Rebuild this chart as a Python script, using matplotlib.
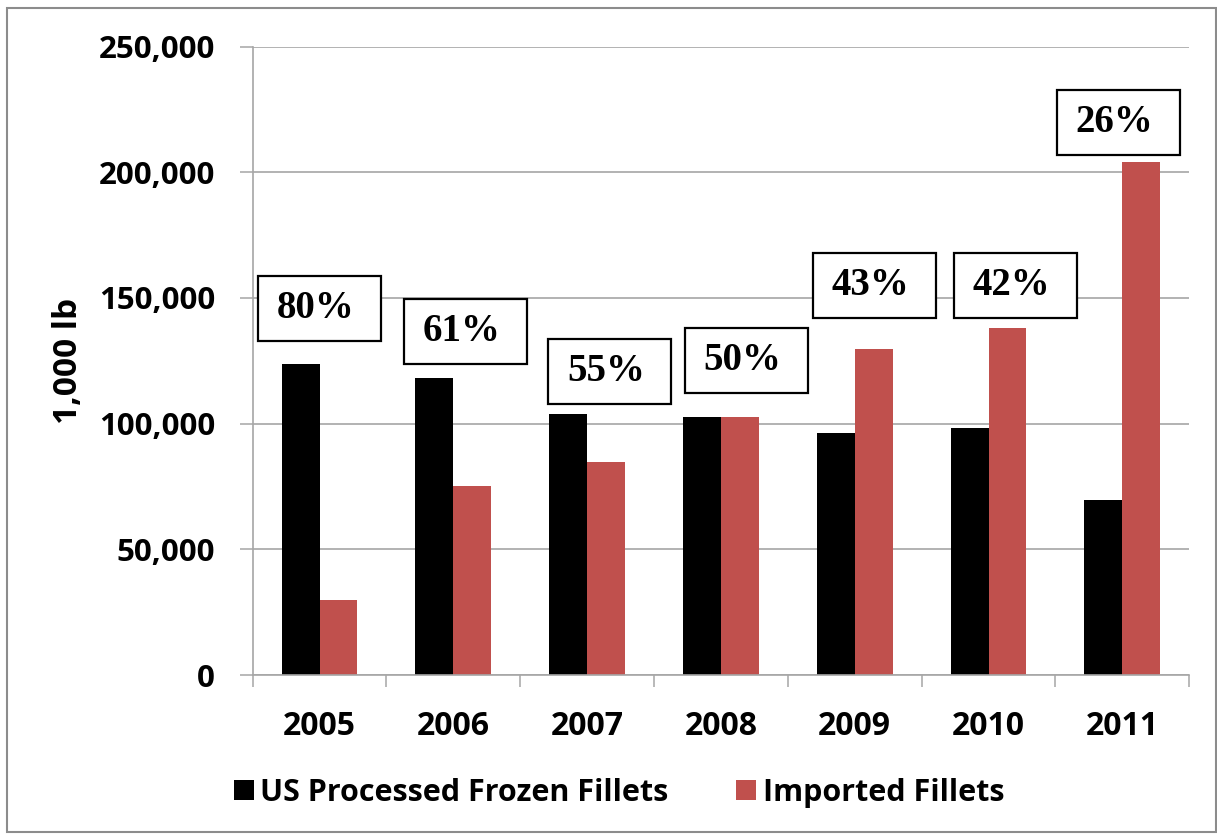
import matplotlib
matplotlib.use("Agg")
import matplotlib.pyplot as plt
from matplotlib.patches import Rectangle, Patch
import numpy as np

# ---- data ----
years = ["2005", "2006", "2007", "2008", "2009", "2010", "2011"]
us_processed = [123600, 118000, 103700, 102800, 96200, 98100, 69700]
imported = [29900, 75200, 84700, 102800, 129800, 137900, 204200]
share_labels = ["80%", "61%", "55%", "50%", "43%", "42%", "26%"]
# annotation box placement (category offset, value level)
label_dx = [0.0, 0.09, 0.17, 0.19, 0.15, 0.20, -0.03]
label_y = [145800, 136700, 120900, 125100, 155100, 155100, 219600]
yticks = [0, 50000, 100000, 150000, 200000, 250000]
series_names = ["US Processed Frozen Fillets", "Imported Fillets"]

BLACK = "#000000"
RED = "#C0504D"
GRID = "#A6A6A6"

plt.rcParams['font.family'] = ['Open Sans', 'DejaVu Sans']

fig = plt.figure(figsize=(12.17, 8.35), dpi=100)
ax = fig.add_axes([0.2076, 0.1916, 0.7696, 0.7527])

x = np.arange(len(years))
w = 0.283
ax.bar(x - w / 2, us_processed, w, color=BLACK, zorder=2)
ax.bar(x + w / 2, imported, w, color=RED, zorder=2)

ax.set_xlim(-0.5, len(years) - 0.5)
ax.set_ylim(0, 250000)
ax.set_axisbelow(True)

# y axis
ax.set_yticks(yticks)
ax.set_yticklabels([f"{v:,}" for v in yticks], fontsize=22.5, fontweight='bold')
ax.tick_params(axis='y', length=9.6, width=1.1, color=GRID, pad=17.5)
ax.yaxis.grid(True, color=GRID, linewidth=1.2)

# x axis: ticks at category boundaries, labels at centers
ax.set_xticks(np.arange(-0.5, len(years), 1.0))
ax.set_xticklabels([])
ax.tick_params(axis='x', which='major', length=8.6, width=1.1, color=GRID)
ax.set_xticks(x, minor=True)
ax.set_xticklabels(years, minor=True, fontsize=23, fontweight='bold')
ax.tick_params(axis='x', which='minor', length=0, pad=25)

for s in ['top', 'right']:
    ax.spines[s].set_visible(False)
for s in ['left', 'bottom']:
    ax.spines[s].set_color(GRID)
    ax.spines[s].set_linewidth(1.2)

# y label
fig.text(0.056, 0.568, "1,000 lb", rotation=90, ha='center', va='center',
         fontsize=24, fontweight='bold')

# share boxes
bw = 0.92
bh = 25860
for i, (lab, dx, ly) in enumerate(zip(share_labels, label_dx, label_y)):
    cx = x[i] + dx
    ax.add_patch(Rectangle((cx - bw / 2, ly - bh / 2), bw, bh, facecolor='white',
                           edgecolor='black', linewidth=1.6, zorder=5, clip_on=False))
    ax.text(cx - 0.03, ly, lab, ha='center', va='center', fontsize=28, fontweight='bold',
            family=['Liberation Serif', 'DejaVu Serif'], zorder=6)

# legend
handles = [Patch(facecolor=BLACK), Patch(facecolor=RED)]
fig.legend(handles, series_names, loc='center', bbox_to_anchor=(0.5086, 0.0503), ncol=2,
           frameon=False, prop={'size': 22, 'weight': 'bold'}, handlelength=0.65,
           handleheight=0.65, handletextpad=0.22, columnspacing=2.2)

# outer border
fig.patches.append(Rectangle((7 / 1217, 3 / 835), (1215.5 - 7) / 1217, (832 - 8) / 835,
                             transform=fig.transFigure, fill=False, edgecolor='#8C8C8C',
                             linewidth=1.5))

fig.savefig("out.png", dpi=100)
